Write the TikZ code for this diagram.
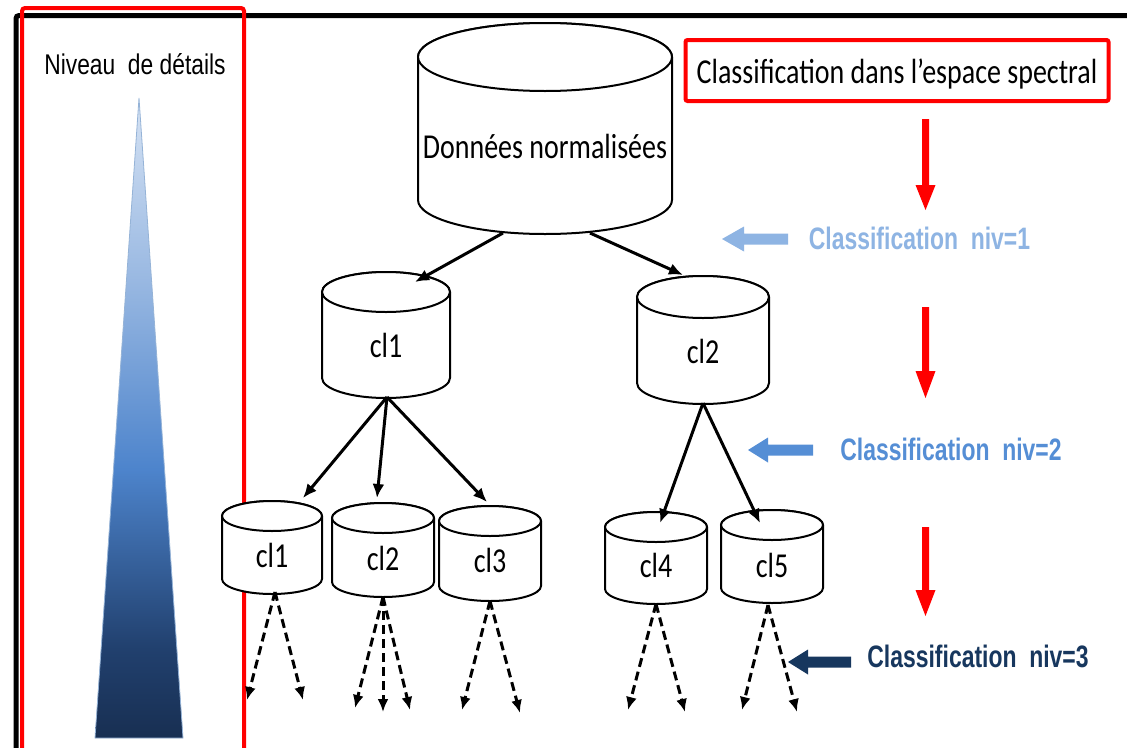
\documentclass[tikz,border=0pt]{standalone}
\usepackage{fontspec}
\setmainfont{Liberation Sans}
\newfontfamily\calib[FakeStretch=0.8]{Carlito}
\newfontfamily\arn[FakeStretch=0.8]{Liberation Sans}
\newfontfamily\arnb[FakeStretch=0.74]{Liberation Sans}
\usetikzlibrary{arrows.meta,calc}
\definecolor{lb}{HTML}{8EB4E3}
\definecolor{mb}{HTML}{558ED5}
\definecolor{db}{HTML}{17375E}
\definecolor{tA}{HTML}{182F52}
\definecolor{tB}{HTML}{21406E}
\definecolor{tC}{HTML}{4D84CC}
\definecolor{tD}{HTML}{9AB9E2}
\definecolor{tE}{HTML}{D6E3F4}
\definecolor{tristroke}{HTML}{95B3D7}
\pgfdeclareverticalshading{tri}{100bp}{color(0bp)=(tA); color(25bp)=(tA); color(32bp)=(tB); color(46bp)=(tC); color(61bp)=(tD); color(75bp)=(tE); color(100bp)=(tE)}
\tikzset{
  cylline/.style={draw=black, line width=2pt, fill=white},
  cylbox/.style={draw=none, inner sep=0pt, outer sep=0pt},
  cyltext/.style={anchor=base, inner sep=0pt, font=\calib\fontsize{35}{40}\selectfont},
  solidarr/.style={line width=3pt, -{Latex[length=14pt,width=12pt]}},
  dasharr/.style={line width=3pt, dash pattern=on 9pt off 5pt, -{Latex[length=13pt,width=11pt]}},
  lvltext/.style={anchor=base, inner sep=0pt, font=\arnb\bfseries\fontsize{31}{36}\selectfont},
}
\newcommand\cylnode[8]{%
  \draw[cylline] (#2-#5,-#3) -- (#2-#5,-#4) arc[start angle=180,end angle=360,x radius=#5,y radius=#6] -- (#2+#5,-#3) arc[start angle=0,end angle=180,x radius=#5,y radius=#6] -- cycle;
  \draw[cylline] (#2,-#3) ellipse[x radius=#5,y radius=#6];
  \node[cylbox, minimum width={2*#5pt}, minimum height={(#4-#3+2*#6)*1pt}] (#1) at (#2,{-(#3+#4)/2}) {};
  \node[cyltext] (#1-label) at (#2,-#7) {#8};
}
\begin{document}
\begin{tikzpicture}[x=1pt,y=1pt]
\useasboundingbox (0,0) rectangle (1127,-747);
\clip (0,0) rectangle (1127,-747);
\fill[white] (0,0) rectangle (1127,-747);
% black frame
\draw[line width=5pt, rounded corners=3pt] (16,-760) -- (16,-15.5) -- (1135,-15.5);
% red frame
\draw[red, line width=4pt, rounded corners=3pt] (22,-760) -- (22,-8) -- (244,-8) -- (244,-760);
% level of detail
\node[anchor=base, inner sep=0pt, font=\arn\fontsize{28.5}{32}\selectfont] (niveau) at (135,-74) {Niveau\ \ de détails};
\shade[shading=tri, draw=tristroke, line width=0.8pt] (139,-98) -- (183,-738) -- (95,-738) -- cycle;
% cylinders
\cylnode{D}{545}{57}{200}{127}{34}{158}{Données normalisées}
\cylnode{A}{386}{292}{378}{64}{20}{357}{cl1}
\cylnode{B}{703}{297}{383}{66}{21}{363}{cl2}
\cylnode{c1}{272}{516}{579}{50}{15}{567}{cl1}
\cylnode{c2}{383}{518}{582}{51}{15}{570}{cl2}
\cylnode{c3}{490}{521}{586}{51}{15}{572}{cl3}
\cylnode{c4}{656}{527}{589}{51}{15}{577}{cl4}
\cylnode{c5}{772}{525}{588}{51}{15}{577}{cl5}
% solid arrows
\draw[solidarr] ($(D.south)+(-42,1)$) -- ($(A.north)+(29,-10)$);
\draw[solidarr] ($(D.south)+(45,1)$) -- ($(B.north)+(-20,1)$);
\draw[solidarr] ($(A.south)+(1,1)$) -- ($(c1.north)+(31,3)$);
\draw[solidarr] ($(A.south)+(1,1)$) -- ($(c2.north)+(-6,5)$);
\draw[solidarr] ($(A.south)+(1,1)$) -- ($(c3.north)+(-3,4)$);
\draw[solidarr] ($(B.south)+(0,1)$) -- ($(c4.north)+(4,-11)$);
\draw[solidarr] ($(B.south)+(0,1)$) -- ($(c5.north)+(-12,-13)$);
% dashed free ends
\coordinate (e1a) at (247,-700);
\coordinate (e1b) at (303,-700);
\coordinate (e2a) at (355,-708);
\coordinate (e2b) at (383,-712);
\coordinate (e2c) at (410,-710);
\coordinate (e3a) at (462,-710);
\coordinate (e3b) at (520,-713);
\coordinate (e4a) at (628,-710);
\coordinate (e4b) at (685,-712);
\coordinate (e5a) at (742,-710);
\coordinate (e5b) at (797,-712);
\draw[dasharr] ($(c1.south)+(3,2)$) -- (e1a);
\draw[dasharr] ($(c1.south)+(3,2)$) -- (e1b);
\draw[dasharr] (c2.south) -- (e2a);
\draw[dasharr] (c2.south) -- (e2b);
\draw[dasharr] (c2.south) -- (e2c);
\draw[dasharr] (c3.south) -- (e3a);
\draw[dasharr] (c3.south) -- (e3b);
\draw[dasharr] (c4.south) -- (e4a);
\draw[dasharr] (c4.south) -- (e4b);
\draw[dasharr] ($(c5.south)+(-4,-2)$) -- (e5a);
\draw[dasharr] ($(c5.south)+(-4,-2)$) -- (e5b);
% title box
\node[anchor=base, draw=red, line width=4pt, rounded corners=2pt, inner xsep=0pt, inner ysep=16pt, text height=27pt, text depth=2pt, minimum width=423pt, font=\calib\fontsize{35}{40}\selectfont] (title) at (897,-83) {Classification dans l’espace spectral};
% red down arrows
\foreach \t/\h/\p in {119/185/210, 307/371/398, 527/590/616}{
  \fill[red] (922,-\t) -- (929,-\t) -- (929,-\h) -- (935.5,-\h) -- (925.5,-\p) -- (915.5,-\h) -- (922,-\h) -- cycle;
}
% level labels with block arrows
\fill[lb] (722,-239) -- (744,-226.5) -- (744,-233.5) -- (788,-233.5) -- (788,-244.5) -- (744,-244.5) -- (744,-251.5) -- cycle;
\node[lvltext, text=lb] (niv1) at (919.5,-249) {Classification\ \ niv=1};
\fill[mb] (748,-450) -- (768,-437.5) -- (768,-444.5) -- (813,-444.5) -- (813,-455.5) -- (768,-455.5) -- (768,-462.5) -- cycle;
\node[lvltext, text=mb] (niv2) at (951,-460) {Classification\ \ niv=2};
\fill[db] (788,-662) -- (808,-649.5) -- (808,-656.5) -- (851,-656.5) -- (851,-667.5) -- (808,-667.5) -- (808,-674.5) -- cycle;
\node[lvltext, text=db] (niv3) at (978,-667) {Classification\ \ niv=3};
\end{tikzpicture}
\end{document}
